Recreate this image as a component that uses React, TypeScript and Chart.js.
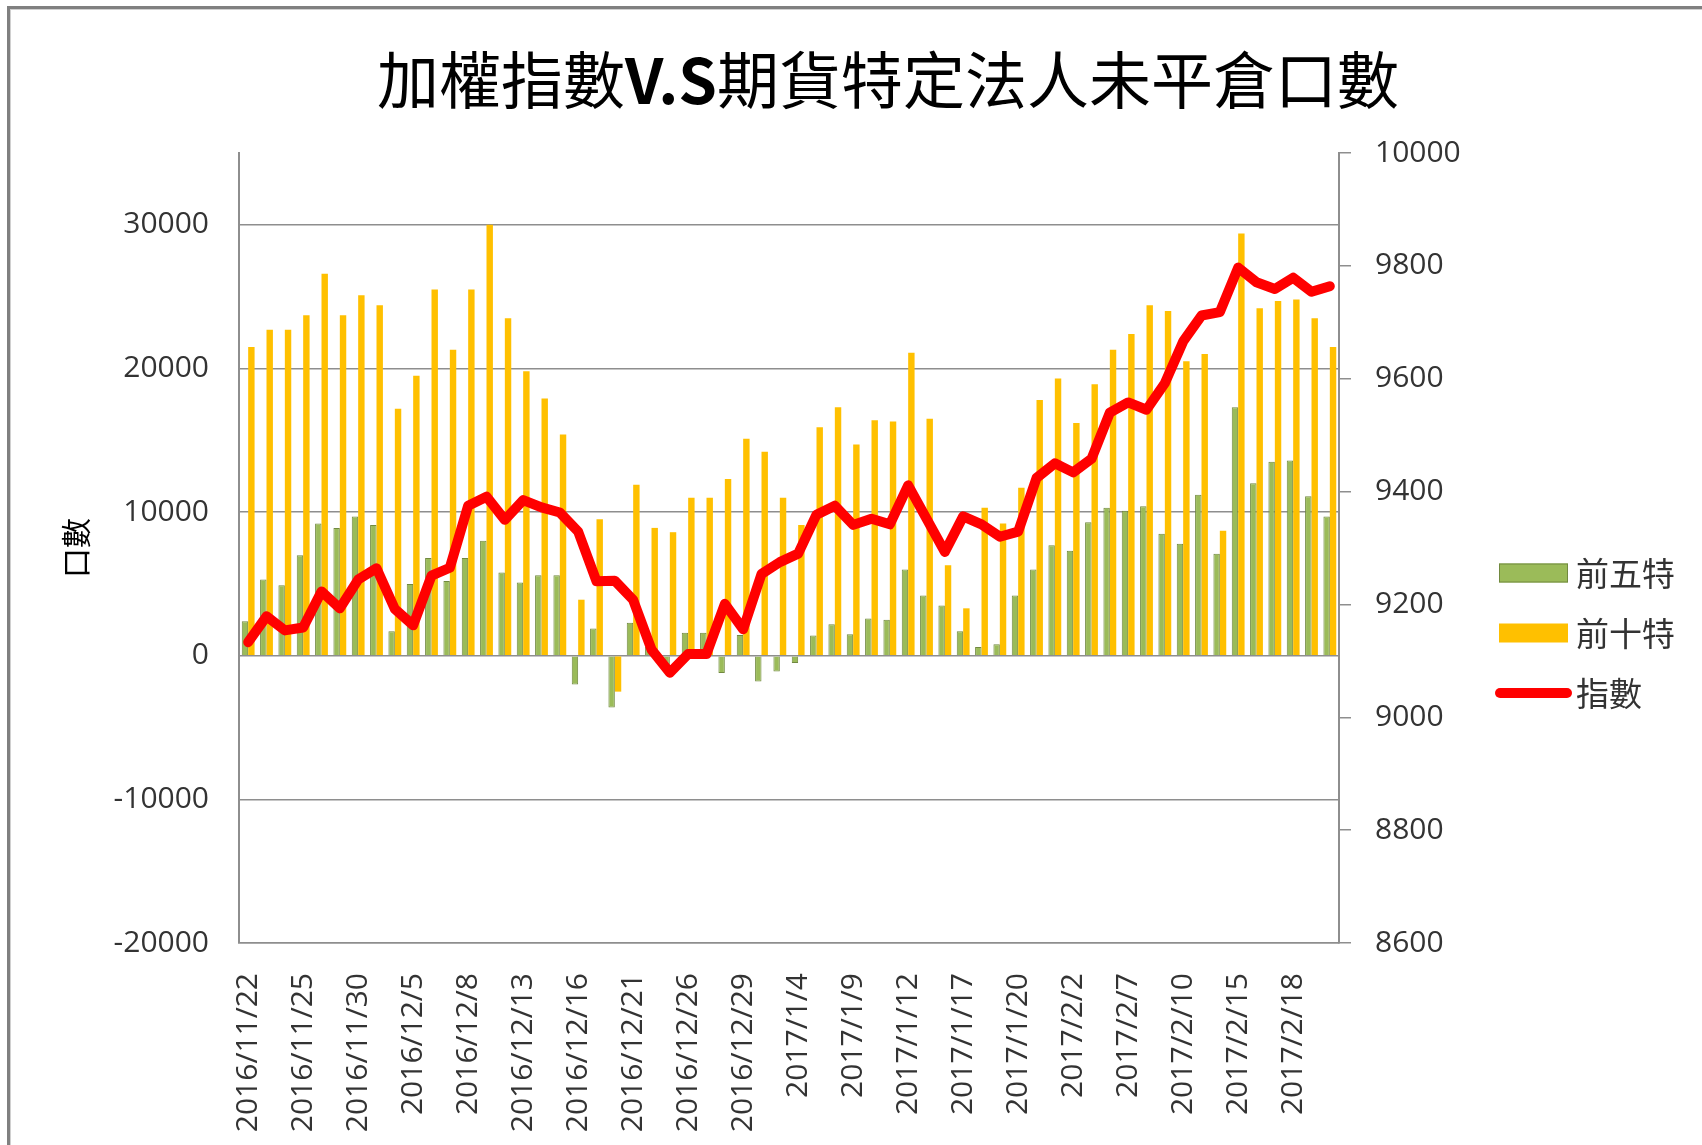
import React, { useEffect, useRef } from "react";
import { Chart, registerables } from "chart.js";

Chart.register(...registerables);

const dates = [
  "2016/11/22", "2016/11/23", "2016/11/24", "2016/11/25", "2016/11/28", "2016/11/29", "2016/11/30",
  "2016/12/1", "2016/12/2", "2016/12/5", "2016/12/6", "2016/12/7", "2016/12/8", "2016/12/9",
  "2016/12/12", "2016/12/13", "2016/12/14", "2016/12/15", "2016/12/16", "2016/12/19", "2016/12/20",
  "2016/12/21", "2016/12/22", "2016/12/23", "2016/12/26", "2016/12/27", "2016/12/28", "2016/12/29",
  "2016/12/30", "2017/1/3", "2017/1/4", "2017/1/5", "2017/1/6", "2017/1/9", "2017/1/10",
  "2017/1/11", "2017/1/12", "2017/1/13", "2017/1/16", "2017/1/17", "2017/1/18", "2017/1/19",
  "2017/1/20", "2017/1/23", "2017/1/24", "2017/2/2", "2017/2/3", "2017/2/6", "2017/2/7",
  "2017/2/8", "2017/2/9", "2017/2/10", "2017/2/13", "2017/2/14", "2017/2/15", "2017/2/16",
  "2017/2/17", "2017/2/18", "2017/2/20", "2017/2/21",
];

const top5 = [
  2400, 5300, 4900, 7000, 9200, 8900, 9700, 9100, 1700, 5000,
  6800, 5200, 6800, 8000, 5800, 5100, 5600, 5600, -2000, 1900,
  -3600, 2300, 600, -650, 1600, 1600, -1200, 1450, -1800, -1100,
  -500, 1400, 2200, 1500, 2600, 2500, 6000, 4200, 3500, 1700,
  600, 800, 4200, 6000, 7700, 7300, 9300, 10300, 10100, 10400,
  8500, 7800, 11200, 7100, 17300, 12000, 13500, 13600, 11100, 9700,
];

const top10 = [
  21500, 22700, 22700, 23700, 26600, 23700, 25100, 24400, 17200, 19500,
  25500, 21300, 25500, 30000, 23500, 19800, 17900, 15400, 3900, 9500,
  -2500, 11900, 8900, 8600, 11000, 11000, 12300, 15100, 14200, 11000,
  9100, 15900, 17300, 14700, 16400, 16300, 21100, 16500, 6300, 3300,
  10300, 9200, 11700, 17800, 19300, 16200, 18900, 21300, 22400, 24400,
  24000, 20500, 21000, 8700, 29400, 24200, 24700, 24800, 23500, 21500,
];

const taiex = [
  9133, 9179, 9154, 9159, 9223, 9193, 9244, 9264, 9192, 9163,
  9251, 9265, 9375, 9391, 9350, 9385, 9372, 9363, 9329, 9241,
  9242, 9208, 9120, 9079, 9112, 9112, 9201, 9156, 9254, 9275,
  9290, 9359, 9375, 9341, 9352, 9342, 9411, 9352, 9293, 9356,
  9342, 9320, 9329, 9424, 9450, 9434, 9458, 9540, 9558, 9545,
  9592, 9666, 9712, 9718, 9797, 9771, 9759, 9779, 9754, 9764,
];

const leftTicks = [-20000, -10000, 0, 10000, 20000, 30000];

const titleParts = [
  { text: "加權指數", bold: false },
  { text: "V.S", bold: true },
  { text: "期貨特定法人未平倉口數", bold: false },
];
const legendNames = ["前五特", "前十特", "指數"];

const GREEN = "#9BBB59";
const GREEN_BORDER = "#71893F";
const YELLOW = "#FFC000";
const RED = "#FF0000";
const GRID = "#8e8e8e";
const TEXT = "#333333";
const NUM_FONT = "'Open Sans', 'Noto Sans', sans-serif";
const CJK_FONT = "'Noto Sans CJK TC', 'Noto Sans CJK SC', sans-serif";

const plainNumber = (v: any) => String(v);

const decorPlugin = {
  id: "decor",
  beforeDraw(chart: any) {
    const ctx = chart.ctx;
    ctx.save();
    ctx.fillStyle = "#ffffff";
    ctx.fillRect(0, 0, chart.width, chart.height);
    ctx.fillStyle = "#808080";
    ctx.fillRect(7, 6, 3, chart.height);
    ctx.fillRect(7, 6, chart.width, 3);
    ctx.fillStyle = "#d0d0d0";
    ctx.fillRect(10, 9, 1, chart.height);
    ctx.fillRect(10, 9, chart.width, 1);
    ctx.restore();
  },
  afterDraw(chart: any) {
    const ctx = chart.ctx;
    ctx.save();
    // title
    const size = 62;
    const fonts = titleParts.map(
      (p) => `${p.bold ? "bold " : ""}${size}px ${CJK_FONT}`
    );
    let total = 0;
    const widths = titleParts.map((p, i) => {
      ctx.font = fonts[i];
      const w = ctx.measureText(p.text).width;
      total += w;
      return w;
    });
    let x = 888 - total / 2;
    ctx.fillStyle = "#000000";
    ctx.textBaseline = "middle";
    ctx.textAlign = "left";
    titleParts.forEach((p, i) => {
      ctx.font = fonts[i];
      ctx.fillText(p.text, x, 80);
      x += widths[i];
    });

    // legend
    const bx = 1499;
    const bw = 69;
    const ys = [573, 633, 693];
    ctx.fillStyle = GREEN;
    ctx.fillRect(bx, ys[0] - 9.5, bw, 19);
    ctx.strokeStyle = GREEN_BORDER;
    ctx.lineWidth = 1;
    ctx.strokeRect(bx + 0.5, ys[0] - 9, bw - 1, 18);
    ctx.fillStyle = YELLOW;
    ctx.fillRect(bx, ys[1] - 9.5, bw, 19);
    ctx.strokeStyle = RED;
    ctx.lineWidth = 10;
    ctx.lineCap = "round";
    ctx.beginPath();
    ctx.moveTo(bx + 1, ys[2]);
    ctx.lineTo(bx + bw - 1, ys[2]);
    ctx.stroke();
    ctx.fillStyle = TEXT;
    ctx.font = `33px ${CJK_FONT}`;
    ctx.textBaseline = "middle";
    legendNames.forEach((n, i) => {
      ctx.fillText(n, 1576, ys[i]);
    });
    ctx.restore();
  },
};

export default function App() {
  const canvasRef = useRef<HTMLCanvasElement | null>(null);

  useEffect(() => {
    document.body.style.margin = "0";
    document.body.style.overflow = "hidden";
    const canvas = canvasRef.current;
    if (!canvas) return;
    const chart = new Chart(canvas, {
      type: "bar",
      data: {
        labels: dates,
        datasets: [
          {
            type: "line",
            label: legendNames[2],
            data: taiex,
            yAxisID: "y1",
            borderColor: RED,
            backgroundColor: RED,
            borderWidth: 10,
            pointRadius: 0,
            tension: 0,
            borderJoinStyle: "round",
            borderCapStyle: "round",
            order: 0,
          } as any,
          {
            type: "bar",
            label: legendNames[0],
            data: top5,
            yAxisID: "y",
            backgroundColor: GREEN,
            borderColor: GREEN_BORDER,
            borderWidth: 1,
            barPercentage: 1,
            categoryPercentage: 0.7,
            order: 1,
          },
          {
            type: "bar",
            label: legendNames[1],
            data: top10,
            yAxisID: "y",
            backgroundColor: YELLOW,
            borderWidth: 0,
            barPercentage: 1,
            categoryPercentage: 0.7,
            order: 2,
          },
        ],
      },
      options: {
        responsive: true,
        maintainAspectRatio: false,
        animation: false,
        layout: { padding: { left: 40, right: 223, top: 153, bottom: 7 } },
        plugins: {
          legend: { display: false },
          title: { display: false },
          tooltip: { enabled: false },
        },
        scales: {
          x: {
            type: "category",
            offset: true,
            grid: { display: false },
            border: { display: true, color: GRID, width: 1.5 },
            ticks: {
              autoSkip: false,
              minRotation: 90,
              maxRotation: 90,
              padding: 22,
              color: TEXT,
              font: { family: NUM_FONT, size: 30 },
              callback: (_v: any, i: number) => (i % 3 === 0 ? dates[i] : ""),
            },
            afterFit: (s: any) => {
              s.height = 195;
            },
          },
          y: {
            type: "linear",
            position: "left",
            min: -20000,
            max: 35000,
            afterBuildTicks: (s: any) => {
              s.ticks = leftTicks.map((v) => ({ value: v }));
            },
            grid: { color: GRID, lineWidth: 1.5, drawTicks: false },
            border: { display: true, color: GRID, width: 2 },
            ticks: {
              padding: 30,
              color: TEXT,
              font: { family: NUM_FONT, size: 30 },
              callback: plainNumber,
            },
            title: {
              display: true,
              text: "口數",
              color: "#000000",
              font: { family: CJK_FONT, size: 30 },
              padding: { top: 18, bottom: 0 },
            },
            afterFit: (s: any) => {
              s.width = 199;
            },
          },
          y1: {
            type: "linear",
            position: "right",
            min: 8600,
            max: 10000,
            grid: {
              drawOnChartArea: false,
              drawTicks: true,
              tickLength: 12,
              color: GRID,
              lineWidth: 1.5,
            },
            border: { display: true, color: GRID, width: 2 },
            ticks: {
              stepSize: 200,
              padding: 24,
              color: TEXT,
              font: { family: NUM_FONT, size: 30 },
              callback: plainNumber,
            },
            afterFit: (s: any) => {
              s.width = 140;
            },
          },
        },
      } as any,
      plugins: [decorPlugin],
    });
    return () => {
      chart.destroy();
    };
  }, []);

  return (
    <div style={{ position: "relative", width: "1702px", height: "1145px" }}>
      <canvas ref={canvasRef} style={{ display: "block" }} />
    </div>
  );
}
